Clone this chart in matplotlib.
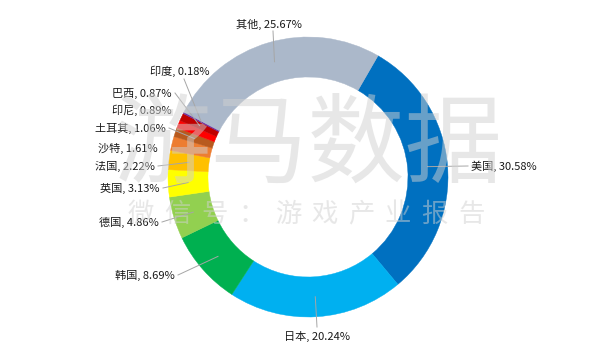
import numpy as np
import matplotlib

matplotlib.use("Agg")
import matplotlib.pyplot as plt

plt.rcParams["font.family"] = ["Noto Sans CJK SC", "DejaVu Sans"]

# data (clockwise from 美国)
countries = ["美国", "日本", "韩国", "德国", "英国", "法国", "沙特",
             "土耳其", "印尼", "巴西", "印度", "其他"]
shares = [30.58, 20.24, 8.69, 4.86, 3.13, 2.22, 1.61,
          1.06, 0.89, 0.87, 0.18, 25.67]
colors = ["#0070C0", "#00B0F0", "#00B050", "#92D050", "#FFFF00", "#FFC000",
          "#ED7D31", "#B85A1E", "#FF0000", "#C00000", "#7030A0", "#ABB8CA"]

# label placement in pixel coords (x, y from top), alignment, leader line?
label_pos = {
    "美国": (471, 166, "left", True),
    "日本": (317, 336, "center", True),
    "韩国": (175, 275, "right", True),
    "德国": (159, 222, "right", True),
    "英国": (160, 188, "right", True),
    "法国": (155, 166, "right", True),
    "沙特": (158, 148, "right", False),
    "土耳其": (166, 128, "right", True),
    "印尼": (172, 110, "right", False),
    "巴西": (172, 93, "right", True),
    "印度": (209, 71, "right", True),
    "其他": (269, 24, "center", True),
}

W, H = 602, 351
fig = plt.figure(figsize=(W / 100, H / 100), dpi=100)
ax = fig.add_axes([0, 0, 1, 1])

cx, cy, R, ring = 308, H - 177, 140, 40
wedges, _ = ax.pie(shares, colors=colors, startangle=60, counterclock=False,
                   center=(cx, cy), radius=R, frame=True,
                   wedgeprops=dict(width=ring, linewidth=0.3))
for w, c in zip(wedges, colors):
    w.set_edgecolor(c)
ax.set_xlim(0, W)
ax.set_ylim(0, H)
ax.set_aspect("equal")
ax.axis("off")

LINE = "#a6a6a6"
rmid = R - ring / 2
for w, name, val in zip(wedges, countries, shares):
    x, y, ha, line = label_pos[name]
    y = H - y
    ang = np.deg2rad((w.theta1 + w.theta2) / 2)
    px, py = cx + rmid * np.cos(ang), cy + rmid * np.sin(ang)
    txt = f"{name}, {val:.2f}%"
    ax.text(x, y, txt, ha=ha, va="center", fontsize=8, color="#1a1a1a",
            zorder=5)
    if line:
        if ha == "left":
            lx, ly = x - 3, y
        elif ha == "right":
            lx, ly = x + 3, y
        elif name == "日本":
            lx, ly = x, y + 9
        else:
            lx, ly = x + 4, y - 7
        if name == "印度":
            lx, ly = x - 25, y - 8
        ax.plot([lx, px], [ly, py], color=LINE, lw=0.7, zorder=4)

# watermark
WM = "#d0d0d0"
ax.text(cx, H - 147, "游马数据", ha="center", va="center", fontsize=70,
        color=WM, alpha=0.5, zorder=6)
mark = "微信号：游戏产业报告"
for i, ch in enumerate(mark):
    ax.text(141 + 36.7 * i, H - 214, ch, ha="center", va="center",
            fontsize=19, color=WM, alpha=0.5, zorder=6)

fig.savefig("out.png", dpi=100, facecolor="white")
